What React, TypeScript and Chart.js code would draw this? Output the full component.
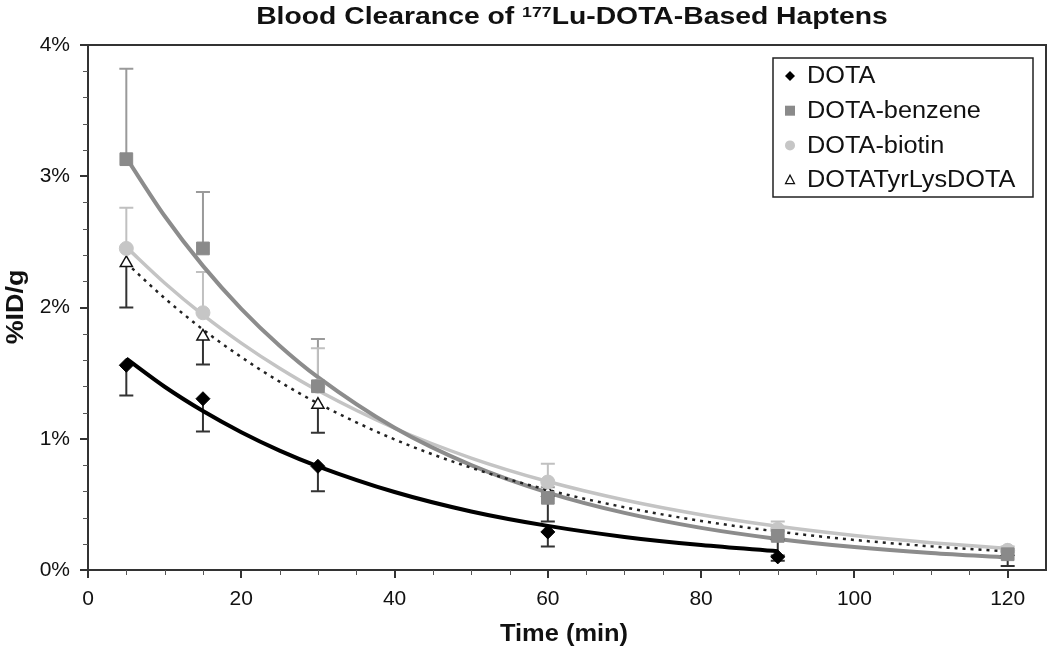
import React, { useEffect, useRef } from "react";
import { Chart, registerables } from "chart.js";
Chart.register(...registerables);

// ---------- text ----------
const TITLE_MAIN = "Blood Clearance of ";
const TITLE_SUP = "177";
const TITLE_REST = "Lu-DOTA-Based Haptens";
const X_TITLE = "Time (min)";
const Y_TITLE = "%ID/g";
const SERIES_NAMES = ["DOTA", "DOTA-benzene", "DOTA-biotin", "DOTATyrLysDOTA"];

// ---------- axis ticks ----------
const X_TICKS = [0, 20, 40, 60, 80, 100, 120];
const Y_TICKS = [0, 1, 2, 3, 4];

// ---------- measured points (%ID/g) ----------
const DOTA_X = [5, 15, 30, 60, 90];
const DOTA_Y = [1.56, 1.305, 0.79, 0.29, 0.1];
const DOTA_ERR = [0.23, 0.25, 0.19, 0.11, 0.03];

const BENZ_X = [5, 15, 30, 60, 90, 120];
const BENZ_Y = [3.13, 2.45, 1.4, 0.55, 0.26, 0.12];
const BENZ_ERR = [0.69, 0.43, 0.36, 0.08, 0.04, 0.02];

const BIOT_X = [5, 15, 30, 60, 90, 120];
const BIOT_Y = [2.45, 1.96, 1.4, 0.67, 0.31, 0.15];
const BIOT_ERR = [0.31, 0.31, 0.29, 0.14, 0.06, 0.03];

const TYR_X = [5, 15, 30, 60, 90, 120];
const TYR_Y = [2.34, 1.78, 1.26, 0.59, 0.26, 0.14];
const TYR_ERR = [0.34, 0.215, 0.215, 0.22, 0.15, 0.11];

// ---------- trend lines ----------
const DOTA_TREND_X = [5, 10, 15, 20, 25, 30, 40, 50, 60, 70, 80, 90];
const DOTA_TREND_Y = [1.61, 1.396, 1.211, 1.05, 0.91, 0.79, 0.594, 0.446, 0.336, 0.252, 0.19, 0.143];

const TREND_X = [5, 10, 15, 20, 25, 30, 40, 50, 60, 70, 80, 90, 100, 110, 120];
const BENZ_TREND_Y = [3.14, 2.697, 2.317, 1.99, 1.709, 1.469, 1.083, 0.799, 0.59, 0.435, 0.321, 0.237, 0.175, 0.129, 0.095];
const BIOT_TREND_Y = [2.46, 2.187, 1.944, 1.729, 1.537, 1.367, 1.08, 0.853, 0.674, 0.533, 0.421, 0.333, 0.263, 0.208, 0.164];
const TYR_TREND_Y = [2.34, 2.071, 1.832, 1.622, 1.435, 1.27, 0.995, 0.779, 0.61, 0.478, 0.374, 0.293, 0.229, 0.18, 0.141];

const pts = (xs: number[], ys: number[]) => xs.map((x, i) => ({ x, y: ys[i] }));

const FONT = '"Liberation Sans", Arial, Helvetica, sans-serif';

function drawStretched(
  ctx: CanvasRenderingContext2D,
  text: string,
  x: number,
  y: number,
  align: "left" | "center" | "right",
  sx: number
) {
  const w = ctx.measureText(text).width * sx;
  let left = x;
  if (align === "center") left = x - w / 2;
  else if (align === "right") left = x - w;
  ctx.save();
  ctx.translate(left, y);
  ctx.scale(sx, 1);
  ctx.textAlign = "left";
  ctx.fillText(text, 0, 0);
  ctx.restore();
  return w;
}

const errorBarPlugin = {
  id: "errorBars",
  beforeDatasetsDraw(chart: any) {
    const ctx = chart.ctx as CanvasRenderingContext2D;
    const yScale = chart.scales.y;
    const xScale = chart.scales.x;
    chart.data.datasets.forEach((ds: any) => {
      if (!ds.errors) return;
      ctx.save();
      ctx.strokeStyle = ds.errColor;
      ctx.lineWidth = 2;
      ds.data.forEach((p: any, i: number) => {
        const px = xScale.getPixelForValue(p.x);
        const py = yScale.getPixelForValue(p.y);
        const pe = yScale.getPixelForValue(p.y + ds.errDir * ds.errors[i]);
        ctx.beginPath();
        ctx.moveTo(px, py);
        ctx.lineTo(px, pe);
        ctx.moveTo(px - 7, pe);
        ctx.lineTo(px + 7, pe);
        ctx.stroke();
      });
      ctx.restore();
    });
  },
};

const decorPlugin = {
  id: "decor",
  afterDraw(chart: any) {
    const ctx = chart.ctx as CanvasRenderingContext2D;
    const { left, right, top, bottom } = chart.chartArea;
    const xs = chart.scales.x;
    const ys = chart.scales.y;
    ctx.save();
    // frame top + right
    ctx.strokeStyle = "#333";
    ctx.lineWidth = 2;
    ctx.beginPath();
    ctx.moveTo(left - 8, top);
    ctx.lineTo(right, top);
    ctx.lineTo(right, bottom);
    ctx.stroke();
    // minor ticks
    ctx.lineWidth = 1;
    ctx.strokeStyle = "#555";
    ctx.beginPath();
    for (let v = 5; v < xs.max; v += 5) {
      if (v % 20 === 0) continue;
      const px = Math.round(xs.getPixelForValue(v)) + 0.5;
      ctx.moveTo(px, bottom);
      ctx.lineTo(px, bottom + 5);
    }
    for (let k = 1; k < 20; k++) {
      if (k % 5 === 0) continue;
      const py = Math.round(ys.getPixelForValue(k * 0.2)) + 0.5;
      ctx.moveTo(left - 5, py);
      ctx.lineTo(left, py);
    }
    ctx.stroke();

    // title
    ctx.fillStyle = "#111";
    ctx.strokeStyle = "#111";
    ctx.lineWidth = 0.6;
    ctx.textBaseline = "alphabetic";
    const sx = 1.18;
    ctx.font = `bold 24px ${FONT}`;
    const w1 = ctx.measureText(TITLE_MAIN).width * sx;
    const w3 = ctx.measureText(TITLE_REST).width * sx;
    ctx.font = `bold 15px ${FONT}`;
    const w2 = ctx.measureText(TITLE_SUP).width * sx;
    let tx = 572 - (w1 + w2 + w3) / 2;
    ctx.font = `bold 24px ${FONT}`;
    drawStretched(ctx, TITLE_MAIN, tx, 24, "left", sx);
    tx += w1;
    ctx.font = `bold 15px ${FONT}`;
    drawStretched(ctx, TITLE_SUP, tx, 17, "left", sx);
    tx += w2;
    ctx.font = `bold 24px ${FONT}`;
    drawStretched(ctx, TITLE_REST, tx, 24, "left", sx);

    // x title
    ctx.font = `bold 24px ${FONT}`;
    drawStretched(ctx, X_TITLE, 564, 641, "center", 1.06);
    // y title
    ctx.save();
    ctx.translate(23, 307);
    ctx.rotate(-Math.PI / 2);
    drawStretched(ctx, Y_TITLE, 0, 0, "center", 1.12);
    ctx.restore();

    // legend
    const bx = 773, by = 58, bw = 260, bh = 139;
    ctx.fillStyle = "#fff";
    ctx.fillRect(bx, by, bw, bh);
    ctx.strokeStyle = "#222";
    ctx.lineWidth = 1.5;
    ctx.strokeRect(bx, by, bw, bh);
    const markers = chart.data.datasets.filter((d: any) => d.legendMarker);
    markers.forEach((d: any, i: number) => {
      const cy = 76 + i * 34.7;
      const cx = 790;
      ctx.save();
      ctx.fillStyle = d.backgroundColor;
      ctx.strokeStyle = d.borderColor;
      ctx.lineWidth = 1.2;
      ctx.beginPath();
      if (d.pointStyle === "rectRot") {
        ctx.moveTo(cx, cy - 5);
        ctx.lineTo(cx + 5, cy);
        ctx.lineTo(cx, cy + 5);
        ctx.lineTo(cx - 5, cy);
        ctx.closePath();
        ctx.fill();
      } else if (d.pointStyle === "rect") {
        ctx.rect(cx - 5, cy - 5, 10, 10);
        ctx.fill();
      } else if (d.pointStyle === "circle") {
        ctx.arc(cx, cy, 5, 0, Math.PI * 2);
        ctx.fill();
      } else {
        ctx.moveTo(cx, cy - 5);
        ctx.lineTo(cx + 4.5, cy + 3.5);
        ctx.lineTo(cx - 4.5, cy + 3.5);
        ctx.closePath();
        ctx.fill();
        ctx.stroke();
      }
      ctx.restore();
      ctx.fillStyle = "#111";
      ctx.font = `23px ${FONT}`;
      ctx.textBaseline = "middle";
      drawStretched(ctx, d.label, 807, cy + 1, "left", 1.1);
    });
    ctx.restore();
  },
};

export default function App() {
  const ref = useRef<HTMLCanvasElement>(null);
  useEffect(() => {
    document.body.style.margin = "0";
    const canvas = ref.current!;
    const chart = new Chart(canvas, {
      type: "scatter",
      data: {
        datasets: [
          {
            type: "scatter",
            label: SERIES_NAMES[0],
            data: pts(DOTA_X, DOTA_Y),
            pointStyle: "rectRot",
            pointRadius: 7,
            backgroundColor: "#000",
            borderColor: "#000",
            borderWidth: 1,
            order: 0,
            errors: DOTA_ERR,
            errDir: -1,
            errColor: "#333",
            legendMarker: true,
          } as any,
          {
            type: "scatter",
            label: SERIES_NAMES[1],
            data: pts(BENZ_X, BENZ_Y),
            pointStyle: "rect",
            pointRadius: 9,
            backgroundColor: "#8a8a8a",
            borderColor: "#8a8a8a",
            borderWidth: 1,
            order: 0,
            errors: BENZ_ERR,
            errDir: 1,
            errColor: "#9a9a9a",
            legendMarker: true,
          } as any,
          {
            type: "scatter",
            label: SERIES_NAMES[2],
            data: pts(BIOT_X, BIOT_Y),
            pointStyle: "circle",
            pointRadius: 7,
            backgroundColor: "#c6c6c6",
            borderColor: "#c6c6c6",
            borderWidth: 1,
            order: 0,
            errors: BIOT_ERR,
            errDir: 1,
            errColor: "#c0c0c0",
            legendMarker: true,
          } as any,
          {
            type: "scatter",
            label: SERIES_NAMES[3],
            data: pts(TYR_X, TYR_Y),
            pointStyle: "triangle",
            pointRadius: 7,
            backgroundColor: "#fff",
            borderColor: "#111",
            borderWidth: 1.5,
            order: 0,
            errors: TYR_ERR,
            errDir: -1,
            errColor: "#333",
            legendMarker: true,
          } as any,
          {
            type: "line",
            label: SERIES_NAMES[0] + " fit",
            data: pts(DOTA_TREND_X, DOTA_TREND_Y),
            borderColor: "#000",
            borderWidth: 4,
            pointRadius: 0,
            showLine: true,
            fill: false,
            cubicInterpolationMode: "monotone",
            order: 1,
          } as any,
          {
            type: "line",
            label: SERIES_NAMES[3] + " fit",
            data: pts(TREND_X, TYR_TREND_Y),
            borderColor: "#222",
            borderWidth: 2.5,
            borderDash: [3, 5],
            pointRadius: 0,
            showLine: true,
            fill: false,
            cubicInterpolationMode: "monotone",
            order: 2,
          } as any,
          {
            type: "line",
            label: SERIES_NAMES[1] + " fit",
            data: pts(TREND_X, BENZ_TREND_Y),
            borderColor: "#8c8c8c",
            borderWidth: 4,
            pointRadius: 0,
            showLine: true,
            fill: false,
            cubicInterpolationMode: "monotone",
            order: 3,
          } as any,
          {
            type: "line",
            label: SERIES_NAMES[2] + " fit",
            data: pts(TREND_X, BIOT_TREND_Y),
            borderColor: "#c4c4c4",
            borderWidth: 3.5,
            pointRadius: 0,
            showLine: true,
            fill: false,
            cubicInterpolationMode: "monotone",
            order: 4,
          } as any,
        ],
      },
      options: {
        responsive: false,
        animation: false,
        devicePixelRatio: 1,
        layout: { autoPadding: false, padding: { top: 45, right: 4, left: 0, bottom: 0 } },
        plugins: {
          legend: { display: false },
          tooltip: { enabled: false },
          title: { display: false },
        },
        scales: {
          x: {
            type: "linear",
            min: 0,
            max: 125,
            afterBuildTicks: (scale: any) => {
              scale.ticks = X_TICKS.map((v) => ({ value: v }));
            },
            afterFit: (scale: any) => {
              scale.height = 78;
              scale.paddingRight = 0;
              scale.paddingLeft = 0;
            },
            ticks: {
              color: "#111",
              font: { family: FONT, size: 21 },
              padding: 9,
              maxRotation: 0,
              callback: (v: any) => String(v),
            },
            grid: {
              display: true,
              drawOnChartArea: false,
              drawTicks: true,
              tickLength: 8,
              color: "#333",
              lineWidth: 2,
            },
            border: { display: true, color: "#333", width: 2 },
          },
          y: {
            type: "linear",
            min: 0,
            max: 4,
            afterBuildTicks: (scale: any) => {
              scale.ticks = Y_TICKS.map((v) => ({ value: v }));
            },
            afterFit: (scale: any) => {
              scale.width = 88;
              scale.paddingTop = 0;
              scale.paddingBottom = 0;
            },
            ticks: {
              color: "#111",
              font: { family: FONT, size: 21 },
              padding: 10,
              callback: (v: any) => v + "%",
            },
            grid: {
              display: true,
              drawOnChartArea: false,
              drawTicks: true,
              tickLength: 8,
              color: "#333",
              lineWidth: 2,
            },
            border: { display: true, color: "#333", width: 2 },
          },
        },
      },
      plugins: [errorBarPlugin, decorPlugin],
    } as any);
    return () => chart.destroy();
  }, []);
  return (
    <div style={{ width: 1050, height: 648, position: "relative" }}>
      <canvas ref={ref} width={1050} height={648} style={{ display: "block" }} />
    </div>
  );
}
